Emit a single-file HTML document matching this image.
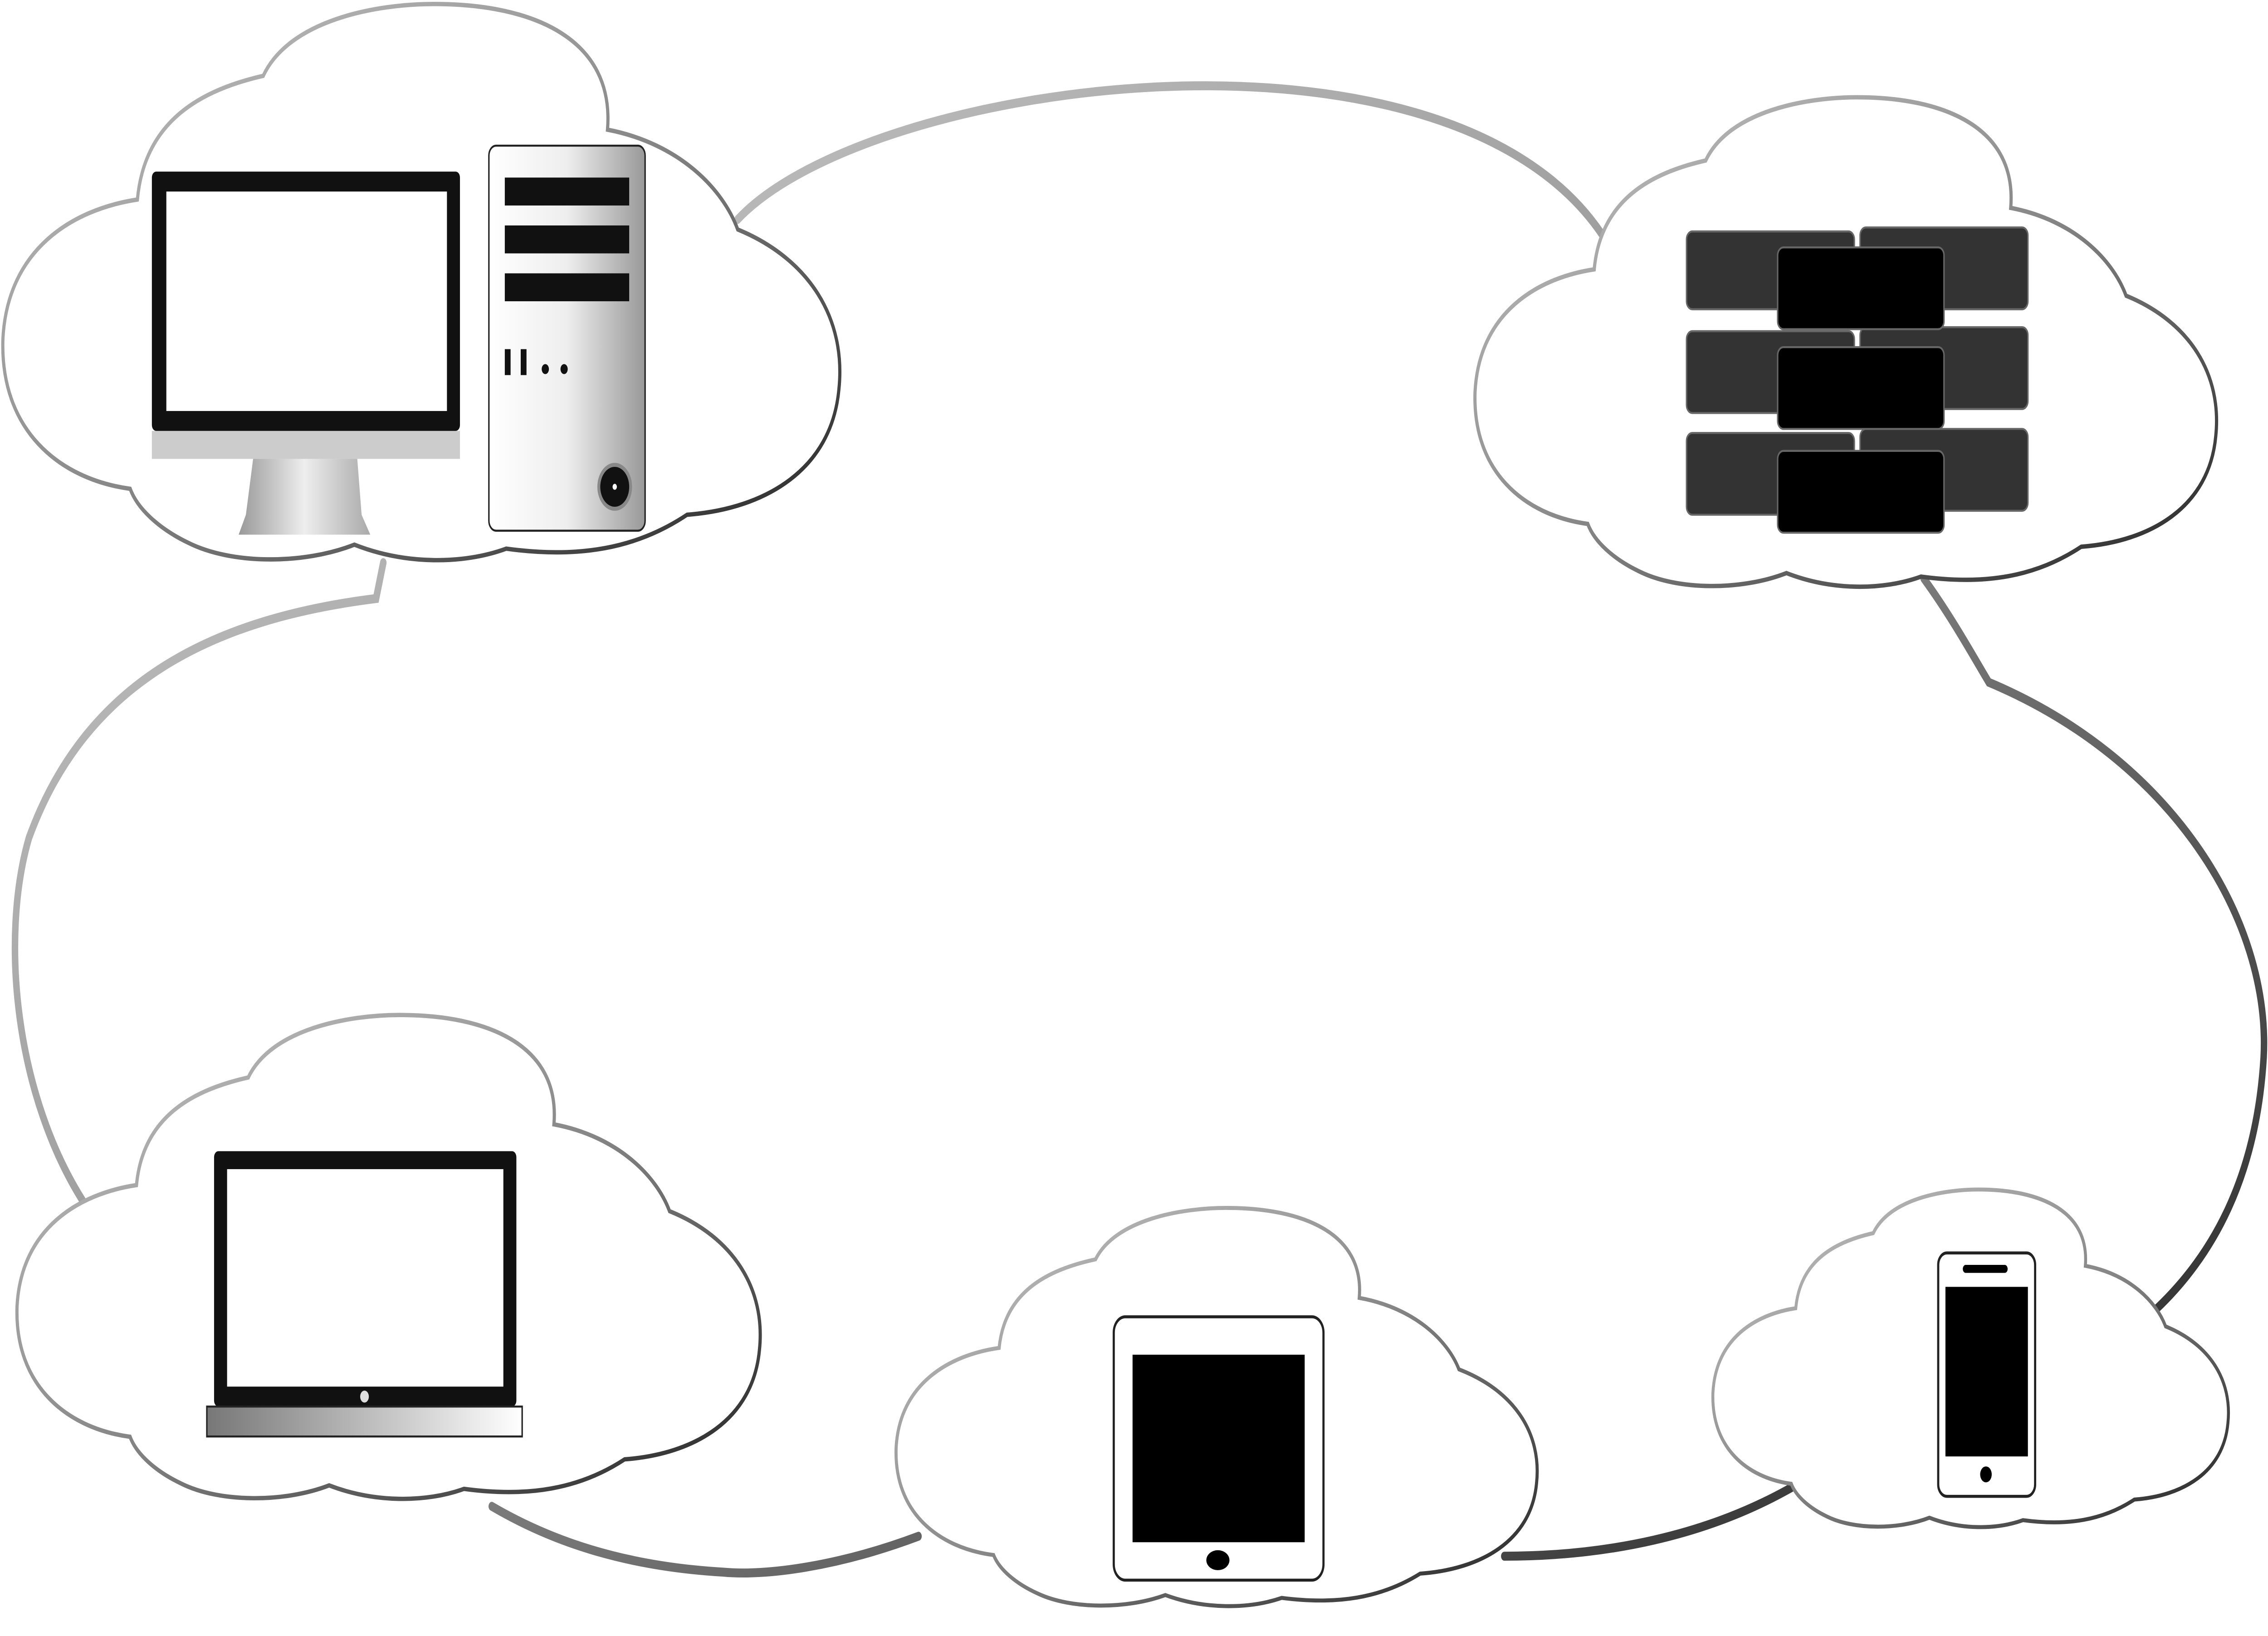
<!DOCTYPE html>
<html><head><meta charset="utf-8"><style>
html,body{margin:0;padding:0;background:#fff;width:100%;height:100%;overflow:hidden}
svg{display:block;position:absolute;left:0;top:0;width:100vw;height:100vh}
</style></head><body>
<svg viewBox="0 0 1568 820" preserveAspectRatio="none" xmlns="http://www.w3.org/2000/svg">
<defs>
<linearGradient id="cg" x1="0" y1="0" x2="1" y2="1">
<stop offset="0" stop-color="#c8c8c8"/><stop offset="0.5" stop-color="#888"/><stop offset="1" stop-color="#222"/></linearGradient>
<linearGradient id="bg" x1="0" y1="0" x2="1" y2="1">
<stop offset="0" stop-color="#d0d0d0"/><stop offset="0.45" stop-color="#999"/><stop offset="1" stop-color="#1e1e1e"/></linearGradient>
<linearGradient id="tw" x1="0" y1="0" x2="1" y2="0">
<stop offset="0" stop-color="#fff"/><stop offset="0.5" stop-color="#eee"/><stop offset="1" stop-color="#999"/></linearGradient>
<linearGradient id="lb" x1="0" y1="0" x2="1" y2="0">
<stop offset="0" stop-color="#777"/><stop offset="1" stop-color="#fff"/></linearGradient>
<linearGradient id="st" x1="0" y1="0" x2="1" y2="0">
<stop offset="0" stop-color="#999"/><stop offset="0.5" stop-color="#eee"/><stop offset="1" stop-color="#aaa"/></linearGradient>
<path id="cloud" d="M95 100 C100 60,140 45,182 38 C200 10,260 2,300 2 C370 2,425 20,420 65 C470 72,500 95,510 115 C560 130,585 160,580 195 C575 235,530 255,475 258 C440 275,400 280,350 275 C320 283,280 283,245 273 C210 283,160 283,130 272 C110 265,95 255,90 245 C40 240,0 215,2 170 C5 125,50 105,95 100 Z"/>
</defs>
<path d="M510 110 C600 40,1000 0,1108 118 M1330 290 C1350 310,1365 330,1375 342 C1500 380,1570 460,1565 530 C1560 590,1530 630,1488 658 M1240 745 C1180 770,1110 780,1040 780 M635 770 C580 785,530 790,500 788 C430 785,380 772,340 755 M60 605 C10 550,0 470,20 420 C60 340,150 310,260 300 L265 282"
 fill="none" stroke="url(#bg)" stroke-width="4.5" stroke-linecap="round"/>

<g fill="#fff" stroke="url(#cg)" stroke-width="2.2">
<use href="#cloud" transform="translate(0,0)"/>
<use href="#cloud" transform="translate(1018,47) scale(0.886,0.88)" stroke-width="2.5"/>
<use href="#cloud" transform="translate(10,507) scale(0.888,0.87)" stroke-width="2.5"/>
<use href="#cloud" transform="translate(618,604) scale(0.766,0.716)" stroke-width="2.8"/>
<use href="#cloud" transform="translate(1183,595) scale(0.616,0.607)" stroke-width="3.3"/>
</g>

<rect x="105" y="86" width="213" height="130" rx="3" fill="#111"/>
<rect x="115" y="96" width="194" height="110" fill="#fff"/>
<rect x="105" y="216" width="213" height="14" fill="#ccc"/>
<path d="M175 230 L247 230 L250 258 L256 268 L165 268 L170 258 Z" fill="url(#st)"/>
<rect x="338" y="73" width="108" height="193" rx="5" fill="url(#tw)" stroke="#222" stroke-width="1"/>
<rect x="349" y="89" width="86" height="14" fill="#111"/>
<rect x="349" y="113" width="86" height="14" fill="#111"/>
<rect x="349" y="137" width="86" height="14" fill="#111"/>
<rect x="349" y="175" width="4" height="13" fill="#111"/>
<rect x="360" y="175" width="4" height="13" fill="#111"/>
<circle cx="377" cy="185" r="2.5" fill="#111"/><circle cx="390" cy="185" r="2.5" fill="#111"/>
<circle cx="425" cy="244" r="11" fill="#111" stroke="#888" stroke-width="2"/>
<circle cx="425" cy="244" r="1.5" fill="#fff"/>

<g stroke="#666" stroke-width="1">
<rect x="1166" y="116" width="116" height="39" rx="4" fill="#333"/>
<rect x="1286" y="114" width="116" height="41" rx="4" fill="#333"/>
<rect x="1166" y="166" width="116" height="41" rx="4" fill="#333"/>
<rect x="1286" y="164" width="116" height="41" rx="4" fill="#333"/>
<rect x="1166" y="217" width="116" height="41" rx="4" fill="#333"/>
<rect x="1286" y="215" width="116" height="41" rx="4" fill="#333"/>
<rect x="1229" y="124" width="115" height="41" rx="4" fill="#000"/>
<rect x="1229" y="174" width="115" height="41" rx="4" fill="#000"/>
<rect x="1229" y="226" width="115" height="41" rx="4" fill="#000"/>
</g>

<rect x="148" y="577" width="209" height="128" rx="3" fill="#111"/>
<rect x="157" y="586" width="191" height="109" fill="#fff"/>
<circle cx="252" cy="700" r="3" fill="#ddd"/>
<rect x="143" y="705" width="218" height="15" fill="url(#lb)" stroke="#222" stroke-width="1"/>

<rect x="770" y="660" width="145" height="132" rx="8" fill="#fff" stroke="#222" stroke-width="1.5"/>
<rect x="783" y="679" width="119" height="94" fill="#000"/>
<ellipse cx="842" cy="782" rx="8" ry="5" fill="#000"/>

<rect x="1340" y="628" width="67" height="122" rx="6" fill="#fff" stroke="#222" stroke-width="1.5"/>
<rect x="1345" y="645" width="57" height="85" fill="#000"/>
<rect x="1357" y="634" width="31" height="4" rx="2" fill="#000"/>
<circle cx="1373" cy="739" r="4" fill="#000"/>
</svg>
</body></html>
